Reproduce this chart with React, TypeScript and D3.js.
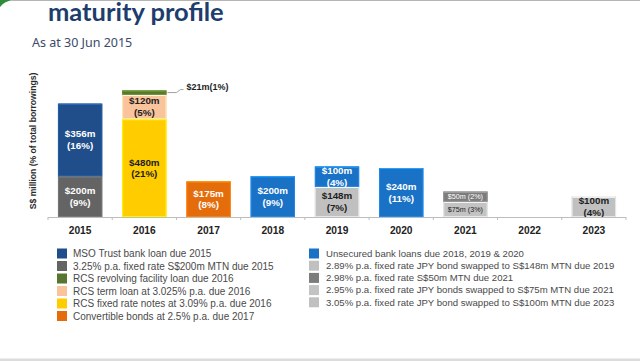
import React from 'react';
import * as d3 from 'd3';

const years = ['2015', '2016', '2017', '2018', '2019', '2020', '2021', '2022', '2023'];

// stacking order, bottom to top
const stackKeys = ['mtn200', 'mso', 'rcsNotes', 'rcsTerm', 'rcsRevolving', 'convertible', 'jpy148', 'jpy75', 'jpy100', 'unsecured', 'mtn50'];

// S$ million per year
const mso = [356, 0, 0, 0, 0, 0, 0, 0, 0];
const mtn200 = [200, 0, 0, 0, 0, 0, 0, 0, 0];
const rcsRevolving = [0, 21, 0, 0, 0, 0, 0, 0, 0];
const rcsTerm = [0, 120, 0, 0, 0, 0, 0, 0, 0];
const rcsNotes = [0, 480, 0, 0, 0, 0, 0, 0, 0];
const convertible = [0, 0, 175, 0, 0, 0, 0, 0, 0];
const unsecured = [0, 0, 0, 200, 100, 240, 0, 0, 0];
const jpy148 = [0, 0, 0, 0, 148, 0, 0, 0, 0];
const mtn50 = [0, 0, 0, 0, 0, 0, 50, 0, 0];
const jpy75 = [0, 0, 0, 0, 0, 0, 75, 0, 0];
const jpy100 = [0, 0, 0, 0, 0, 0, 0, 0, 100];

// % of total borrowings
const pctMso = [16, 0, 0, 0, 0, 0, 0, 0, 0];
const pctMtn200 = [9, 0, 0, 0, 0, 0, 0, 0, 0];
const pctRcsRevolving = [0, 1, 0, 0, 0, 0, 0, 0, 0];
const pctRcsTerm = [0, 5, 0, 0, 0, 0, 0, 0, 0];
const pctRcsNotes = [0, 21, 0, 0, 0, 0, 0, 0, 0];
const pctConvertible = [0, 0, 8, 0, 0, 0, 0, 0, 0];
const pctUnsecured = [0, 0, 0, 9, 4, 11, 0, 0, 0];
const pctJpy148 = [0, 0, 0, 0, 7, 0, 0, 0, 0];
const pctMtn50 = [0, 0, 0, 0, 0, 0, 2, 0, 0];
const pctJpy75 = [0, 0, 0, 0, 0, 0, 3, 0, 0];
const pctJpy100 = [0, 0, 0, 0, 0, 0, 0, 0, 4];

const legendLeft = ['mso', 'mtn200', 'rcsRevolving', 'rcsTerm', 'rcsNotes', 'convertible'];
const legendRight = ['unsecured', 'jpy148', 'mtn50', 'jpy75', 'jpy100'];

const names: Record<string, string> = {
  mso: 'MSO Trust bank loan due 2015',
  mtn200: '3.25% p.a. fixed rate S$200m MTN due 2015',
  rcsRevolving: 'RCS revolving facility loan due 2016',
  rcsTerm: 'RCS term loan at 3.025% p.a. due 2016',
  rcsNotes: 'RCS fixed rate notes at 3.09% p.a. due 2016',
  convertible: 'Convertible bonds at 2.5% p.a. due 2017',
  unsecured: 'Unsecured bank loans due 2018, 2019 & 2020',
  jpy148: '2.89% p.a. fixed rate JPY bond swapped to S$148m MTN due 2019',
  mtn50: '2.98% p.a. fixed rate S$50m MTN due 2021',
  jpy75: '2.95% p.a. fixed rate JPY bonds swapped to S$75m MTN due 2021',
  jpy100: '3.05% p.a. fixed rate JPY bond swapped to S$100m MTN due 2023',
};

const colors: Record<string, string> = {
  mso: '#1f4e8a',
  mtn200: '#646464',
  rcsRevolving: '#56752f',
  rcsTerm: '#f9c49c',
  rcsNotes: '#ffcc00',
  convertible: '#e46c0a',
  unsecured: '#1a72c6',
  jpy148: '#c0c0c0',
  mtn50: '#7c7c7c',
  jpy75: '#c3c3c3',
  jpy100: '#c0c0c0',
};

const darkText = new Set(['rcsTerm', 'rcsNotes', 'jpy148', 'jpy75', 'jpy100', 'rcsRevolving']);

const values: Record<string, number[]> = { mso, mtn200, rcsRevolving, rcsTerm, rcsNotes, convertible, unsecured, jpy148, mtn50, jpy75, jpy100 };
const pcts: Record<string, number[]> = {
  mso: pctMso, mtn200: pctMtn200, rcsRevolving: pctRcsRevolving, rcsTerm: pctRcsTerm, rcsNotes: pctRcsNotes,
  convertible: pctConvertible, unsecured: pctUnsecured, jpy148: pctJpy148, mtn50: pctMtn50, jpy75: pctJpy75, jpy100: pctJpy100,
};

const W = 640;
const H = 361;
const baseY = 217;
const labelFont = '"Liberation Sans", Arial, sans-serif';

const App: React.FC = () => {
  const table = years.map((yr, i) => {
    const row: any = { year: yr };
    stackKeys.forEach(k => { row[k] = values[k][i]; });
    return row;
  });
  const series = d3.stack<any>().keys(stackKeys)(table);

  const x = d3.scaleBand<string>().domain(years).range([48, 626]).paddingInner(0.31).paddingOuter(0.155);
  const y = d3.scaleLinear().domain([0, 650]).range([baseY, 84.5]);
  const bw = x.bandwidth();
  const step = x.step();
  const boundaries = d3.range(years.length + 1).map(i => 48 + i * step);

  const segments: JSX.Element[] = [];
  const labels: JSX.Element[] = [];

  series.forEach(s => {
    const key = s.key;
    s.forEach((d, i) => {
      const v = d[1] - d[0];
      if (!v) return;
      const x0 = x(years[i]) as number;
      const yTop = y(d[1]);
      const h = y(d[0]) - yTop;
      const c = colors[key];
      segments.push(
        <g key={`${key}-${i}`}>
          <rect x={x0} y={yTop} width={bw} height={h} fill={c} />
          <rect x={x0 + 0.5} y={yTop + 0.5} width={bw - 1} height={h - 1} fill="none"
            stroke={d3.color(c)!.brighter(0.5).formatHex()} strokeWidth={1} />
          <line x1={x0 + 1} x2={x0 + bw - 1} y1={yTop + 0.5} y2={yTop + 0.5}
            stroke={d3.color(c)!.brighter(1).formatHex()} strokeWidth={1} />
        </g>
      );
      const fill = darkText.has(key) ? '#1e1e1e' : '#ffffff';
      const cx = x0 + bw / 2;
      const cy = yTop + h / 2;
      const money = `$${v}m`;
      const pct = `(${pcts[key][i]}%)`;
      if (h < 8) {
        const x1 = x0 + bw;
        labels.push(
          <g key={`l-${key}-${i}`}>
            <path d={`M${x1 + 1},${cy} L${x1 + 10},${cy} L${x1 + 14},${cy - 3} L${x1 + 17},${cy - 3}`}
              fill="none" stroke="#8a8a8a" strokeWidth={0.8} />
            <text x={x1 + 20} y={cy - 5.5} dy="0.35em" fontFamily={labelFont} fontWeight="bold"
              fontSize={9} fill="#1e1e1e">{`${money}(${pcts[key][i]}%)`}</text>
          </g>
        );
      } else if (h < 16) {
        labels.push(
          <text key={`l-${key}-${i}`} x={cx} y={cy} dy="0.35em" textAnchor="middle" fontFamily={labelFont}
            fontSize={7.2} fill={fill}>{`${money} ${pct}`}</text>
        );
      } else {
        labels.push(
          <text key={`l-${key}-${i}`} x={cx} y={cy} textAnchor="middle" fontFamily={labelFont}
            fontWeight="bold" fontSize={9.8} fill={fill}>
            <tspan x={cx} dy="-0.25em">{money}</tspan>
            <tspan x={cx} dy="1.2em">{pct}</tspan>
          </text>
        );
      }
    });
  });

  const legendRow = 12.5;

  return (
    <svg width={W} height={H} style={{ position: 'absolute', left: 0, top: 0, background: '#fff' }}>
      <rect width={W} height={H} fill="#fff" />
      {/* slide chrome */}
      <path d="M0,7 Q4,1 14,0 L0,0 Z" fill="#2e8b3a" />
      <line x1={12} x2={W} y1={0.5} y2={0.5} stroke="#b5b5b5" strokeWidth={1.2} />
      <rect x={0} y={358.5} width={W} height={3} fill="#dcdcdc" />

      <text x={48} y={21} fontFamily="Lato, sans-serif" fontWeight="bold" fontSize={25.5} fill="#1d3d6c">
        maturity profile
      </text>
      <text x={32} y={47} fontFamily='"Noto Sans", sans-serif' fontSize={12.5} fill="#3b4a6b">
        As at 30 Jun 2015
      </text>

      {/* y label */}
      <text transform="translate(36,141) rotate(-90)" textAnchor="middle" fontFamily={labelFont}
        fontWeight="bold" fontSize={8.6} fill="#2a2a2a">S$ million (% of total borrowings)</text>

      {segments}
      {labels}

      {/* x axis */}
      <line x1={48} x2={626} y1={baseY + 0.5} y2={baseY + 0.5} stroke="#bdbdbd" strokeWidth={1} />
      {boundaries.map((bx, i) => (
        <line key={`t${i}`} x1={bx} x2={bx} y1={baseY} y2={baseY + 3} stroke="#bdbdbd" strokeWidth={1} />
      ))}
      {years.map(yr => (
        <text key={yr} x={(x(yr) as number) + bw / 2} y={230} dy="0.35em" textAnchor="middle"
          fontFamily={labelFont} fontWeight="bold" fontSize={10.2} fill="#222">{yr}</text>
      ))}

      {/* legend */}
      {legendLeft.map((k, i) => (
        <g key={`lg-${k}`} transform={`translate(57,${253.5 + i * legendRow})`}>
          <rect x={0} y={-5} width={10} height={10} fill={colors[k]} />
          <text x={16} y={0} dy="0.35em" fontFamily={labelFont} fontSize={10} fill="#4a4a4a">{names[k]}</text>
        </g>
      ))}
      {legendRight.map((k, i) => (
        <g key={`lg-${k}`} transform={`translate(309,${253.5 + i * 12.2})`}>
          <rect x={0} y={-5} width={10} height={10} fill={colors[k]} />
          <text x={17} y={0} dy="0.35em" fontFamily={labelFont} fontSize={9.6} fill="#4a4a4a">{names[k]}</text>
        </g>
      ))}
    </svg>
  );
};

export default App;
